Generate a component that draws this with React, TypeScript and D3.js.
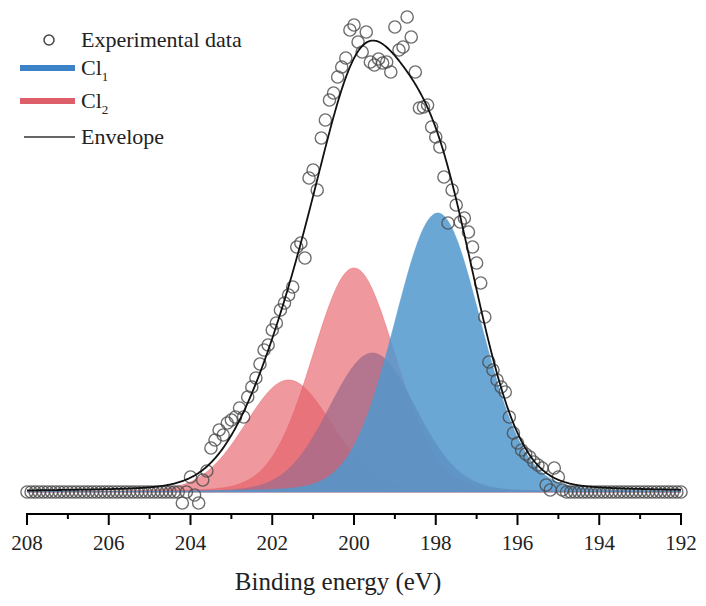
import React from "react";
import * as d3 from "d3";

// ---- data ----
// Experimental spectrum: intensity (a.u.) sampled every 0.1 eV from 208.0 eV down to 192.0 eV
const energyStart = 208;
const energyStep = 0.1;
const intensity = [
  // 208.0 – 204.3
  0, 0, 0, 0, 0, 0, 0, 0, 0, 0,
  0, 0, 0, 0, 0, 0, 0, 0, 0, 0,
  0, 0, 0, 0, 0, 0, 0, 0, 0, 0,
  0, 0, 0, 0, 0, 0, 0, 0,
  // 204.2 – 203.0
  -11, 0, 15, -3, -11, 12, 21, 44, 52, 62, 57, 69, 72,
  // 202.9 – 202.0
  75, 84, 75, 95, 105, 114, 128, 142, 147, 162,
  // 201.9 – 201.0
  169, 182, 189, 197, 205, 245, 249, 234, 314, 322,
  // 200.9 – 200.0
  302, 354, 372, 392, 399, 415, 425, 434, 462, 467,
  // 199.9 – 199.0
  450, 440, 460, 430, 427, 433, 429, 430, 420, 465,
  // 198.9 – 198.0
  442, 445, 475, 455, 420, 384, 385, 387, 365, 355,
  // 197.9 – 197.0
  345, 315, 269, 302, 287, 270, 274, 260, 245, 229,
  // 196.9 – 196.0
  209, 175, 130, 122, 112, 105, 100, 75, 59, 49,
  // 195.9 – 194.9
  42, 38, 35, 30, 27, 24, 7, 2, 24, 15, 2,
  // 194.8 – 192.0
  0, 0, 0, 0, 0, 0, 0, 0, 0, 0,
  0, 0, 0, 0, 0, 0, 0, 0, 0, 0,
  0, 0, 0, 0, 0, 0, 0, 0, 0,
];

// Fitted components (Cl 2p doublets)
const peakGroup = ["Cl1", "Cl1", "Cl2", "Cl2"];
const peakCenters = [197.95, 199.55, 200.0, 201.6];
const peakHeights = [279, 139, 224, 112];
const peakFwhm = [2.5, 2.5, 2.4, 2.5];
const lorentzFraction = 0.1;

const majorTicks = [208, 206, 204, 202, 200, 198, 196, 194, 192];
const minorTicks = [207, 205, 203, 201, 199, 197, 195, 193];
const xTitle = "Binding energy (eV)";
const legendLabels = ["Experimental data", "Cl", "Cl", "Envelope"];
const legendSubs = ["", "1", "2", ""];

// ---- styling ----
const W = 706;
const H = 606;
const FONT = "'Times New Roman', 'Liberation Serif', 'DejaVu Serif', serif";
const BLUE = "rgb(81,152,206)";
const RED = "rgb(230,93,101)";
const MAUVE = "rgb(165,108,138)";

function pv(e: number, i: number) {
  const d = (e - peakCenters[i]) / peakFwhm[i];
  const g = Math.exp(-4 * Math.LN2 * d * d);
  const l = 1 / (1 + 4 * d * d);
  return peakHeights[i] * ((1 - lorentzFraction) * g + lorentzFraction * l);
}

export default function App() {
  const x = d3.scaleLinear().domain([208, 192]).range([27, 681]);
  const y = d3.scaleLinear().domain([0, 480]).range([492, 12]);

  const points = intensity.map((v, i) => ({ e: energyStart - i * energyStep, v }));
  const curveE = d3.range(0, 801).map((k) => 192 + k * 0.02);

  const area = d3
    .area<number>()
    .x((e) => x(e))
    .y0(y(0))
    .curve(d3.curveLinear);

  const envelope = d3
    .line<number>()
    .x((e) => x(e))
    .y((e) => y(peakCenters.reduce((s, _c, i) => s + pv(e, i), 0)))
    .curve(d3.curveLinear);

  const drawOrder = [3, 2, 1, 0];
  const fillColor = [BLUE, MAUVE, RED, RED];
  const fillOpacity = [0.85, 0.8, 0.63, 0.63];

  return (
    <svg
      width={W}
      height={H}
      style={{ position: "absolute", left: 0, top: 0, background: "#fff" }}
      fontFamily={FONT}
    >
      <rect x={0} y={0} width={W} height={H} fill="#fff" />
      {/* components */}
      {drawOrder.map((i) => (
        <path
          key={"pk" + i}
          d={area.y1((e) => y(pv(e, i)))(curveE) || ""}
          fill={fillColor[i]}
          fillOpacity={fillOpacity[i]}
          stroke={fillColor[i]}
          strokeOpacity={0.45}
          strokeWidth={1}
        />
      ))}
      {/* experimental points */}
      {points.map((p, i) => (
        <circle
          key={"c" + i}
          cx={x(p.e)}
          cy={y(p.v)}
          r={6.1}
          fill="none"
          stroke="#4a4a4a"
          strokeOpacity={0.8}
          strokeWidth={1.4}
        />
      ))}
      {/* envelope */}
      <path d={envelope(curveE) || ""} fill="none" stroke="#111" strokeWidth={1.8} />

      {/* x axis */}
      <line x1={x(208)} x2={x(192)} y1={514} y2={514} stroke="#000" strokeWidth={2} />
      {majorTicks.map((t) => (
        <g key={"M" + t}>
          <line x1={x(t)} x2={x(t)} y1={513} y2={525} stroke="#000" strokeWidth={2} />
          <text x={x(t)} y={550} textAnchor="middle" fontSize={21} fontFamily={FONT} fill="#222">
            {t}
          </text>
        </g>
      ))}
      {minorTicks.map((t) => (
        <line key={"m" + t} x1={x(t)} x2={x(t)} y1={513} y2={519} stroke="#000" strokeWidth={2} />
      ))}
      <text x={338} y={590} textAnchor="middle" fontSize={25} fontFamily={FONT} fill="#222">
        {xTitle}
      </text>

      {/* legend */}
      <circle cx={49} cy={40} r={5} fill="none" stroke="#444" strokeWidth={1.5} />
      <line x1={20} x2={75} y1={68} y2={68} stroke="rgb(60,130,200)" strokeWidth={6} />
      <line x1={20} x2={75} y1={101} y2={101} stroke="rgb(222,95,105)" strokeWidth={6} />
      <line x1={24} x2={75} y1={137} y2={137} stroke="#333" strokeWidth={1.6} />
      {legendLabels.map((lab, i) => (
        <text
          key={"lg" + i}
          x={81}
          y={[47, 75, 108, 144][i]}
          fontSize={22}
          fontFamily={FONT}
          fill="#222"
        >
          {lab}
          {legendSubs[i] ? (
            <tspan fontSize={13} dy={6}>
              {legendSubs[i]}
            </tspan>
          ) : null}
        </text>
      ))}
    </svg>
  );
}
